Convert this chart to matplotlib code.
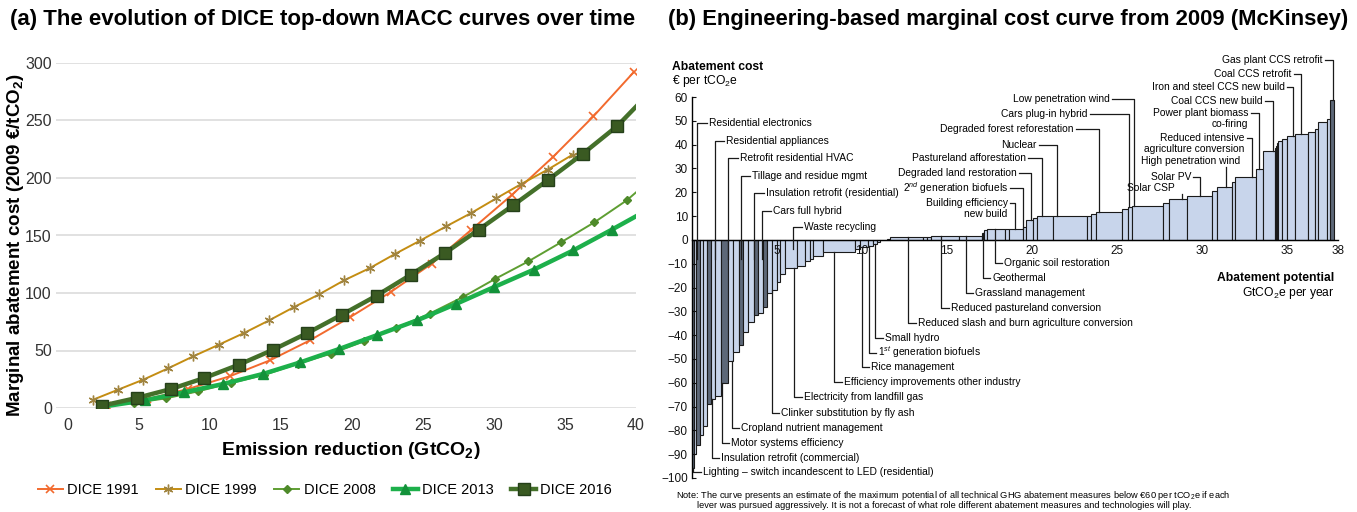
import matplotlib
matplotlib.use("Agg")
import matplotlib.pyplot as plt
import numpy as np

plt.rcParams['font.family'] = ['Liberation Sans', 'DejaVu Sans']
plt.rcParams['mathtext.fontset'] = 'custom'
plt.rcParams['mathtext.rm'] = 'Liberation Sans'
plt.rcParams['mathtext.it'] = 'Liberation Sans:italic'
plt.rcParams['mathtext.bf'] = 'Liberation Sans:bold'

# ---------------- data: panel (a) DICE MACC curves ----------------
dice1991_x = [2.73, 5.58, 8.43, 11.37, 14.21, 17.03, 19.88, 22.73, 25.61, 28.40, 31.25, 34.13, 37.00, 39.85]
dice1991_y = [2.0, 7.7, 16.5, 27.5, 41.4, 58.8, 79.1, 100.9, 125.5, 155.0, 185.2, 218.0, 253.6, 292.2]

dice1999_x = [1.76, 3.52, 5.29, 7.05, 8.81, 10.63, 12.39, 14.16, 15.92, 17.68, 19.44, 21.26, 23.02,
              24.79, 26.64, 28.40, 30.16, 31.92, 33.77, 35.54]
dice1999_y = [7.2, 15.9, 24.6, 34.5, 44.9, 55.1, 65.2, 76.2, 87.8, 98.8, 111.0, 121.7, 133.9,
              145.5, 158.0, 169.6, 182.3, 194.8, 207.2, 220.3]

dice2008_x = [2.47, 4.61, 6.90, 9.16, 11.45, 13.80, 16.21, 18.50, 20.85, 23.11, 25.46, 27.81, 30.07,
              32.42, 34.71, 37.06, 39.35, 40.0]
dice2008_y = [2.0, 4.3, 8.4, 14.5, 21.7, 28.7, 38.6, 47.2, 58.0, 69.6, 82.0, 96.5, 112.2,
              127.5, 144.0, 161.4, 180.6, 187.5]

dice2013_x = [2.56, 5.40, 8.13, 10.93, 13.72, 16.36, 19.09, 21.79, 24.58, 27.31, 30.01, 32.80, 35.59, 38.30, 40.0]
dice2013_y = [1.4, 6.7, 13.6, 20.9, 29.6, 39.7, 51.3, 63.5, 76.2, 90.4, 105.2, 120.3, 137.1, 155.1, 166.7]

dice2016_x = [2.41, 4.82, 7.25, 9.60, 12.04, 14.45, 16.86, 19.30, 21.73, 24.14, 26.55, 28.93, 31.34,
              33.77, 36.24, 38.68, 40.0]
dice2016_y = [2.0, 8.7, 16.5, 26.1, 37.7, 50.7, 65.2, 81.2, 97.7, 115.9, 134.8, 155.1, 176.2,
              198.0, 220.9, 245.2, 262.0]

left_yticks = [0, 50, 100, 150, 200, 250, 300]
left_xticks = [0, 5, 10, 15, 20, 25, 30, 35, 40]

# ---------------- data: panel (b) McKinsey MACC ----------------
lever_widths = [0.10, 0.15, 0.20, 0.22, 0.23, 0.20, 0.25, 0.34, 0.45, 0.29, 0.35, 0.24, 0.29, 0.34,
                0.25, 0.26, 0.27, 0.26, 0.29, 0.20, 0.29, 0.69, 0.49, 0.29, 0.20, 0.59, 1.86, 0.29,
                0.50, 0.25, 0.24, 0.19, 0.39, 0.20, 1.96, 0.20, 0.23, 1.69, 1.31, 0.14, 0.16, 1.07,
                0.26, 0.78, 0.20, 0.39, 0.27, 0.90, 2.01, 0.23, 0.31, 1.51, 0.40, 0.19, 1.83, 0.39,
                1.02, 1.47, 0.29, 0.88, 0.20, 1.24, 0.39, 0.72, 0.07, 0.07, 0.06, 0.20, 0.29, 0.49,
                0.78, 0.40, 0.19, 0.49, 0.20, 0.23]
lever_costs = [-96, -90, -86, -82, -78, -69, -67, -65.5, -60, -51, -47, -44, -38.5, -34.5,
               -31.5, -30.5, -28, -22.5, -21, -17.5, -14.5, -12, -11, -9, -8, -6.7, -5.3, -3.8,
               -3.0, -2.4, -1.6, -0.8, -0.2, 0.4, 1.1, 1.2, 1.4, 1.7, 1.8, 2.8, 4.2, 4.5,
               4.5, 4.5, 5.6, 8.4, 9.1, 10.2, 10.2, 10.2, 10.9, 11.6, 13.0, 13.7, 14.4, 15.4,
               17.2, 18.6, 20.7, 22.1, 24.5, 26.5, 29.7, 37.4, 38.5, 39.5, 40.5, 41.6, 42.3, 43.7,
               44.5, 45.1, 46.5, 49.3, 50.7, 58.8]

lever_names = [
    "Residential electronics", "Residential appliances", "Retrofit residential HVAC",
    "Tillage and residue mgmt", "Insulation retrofit (residential)", "Cars full hybrid",
    "Waste recycling",
    "Lighting \u2013 switch incandescent to LED (residential)", "Insulation retrofit (commercial)",
    "Motor systems efficiency", "Cropland nutrient management", "Clinker substitution by fly ash",
    "Electricity from landfill gas", "Efficiency improvements other industry", "Rice management",
    "1$^{st}$ generation biofuels", "Small hydro", "Reduced slash and burn agriculture conversion",
    "Reduced pastureland conversion", "Grassland management", "Geothermal",
    "Organic soil restoration",
    "Low penetration wind", "Cars plug-in hybrid", "Degraded forest reforestation", "Nuclear",
    "Pastureland afforestation", "Degraded land restoration", "2$^{nd}$ generation biofuels",
    "Building efficiency\nnew build",
    "Gas plant CCS retrofit", "Coal CCS retrofit", "Iron and steel CCS new build",
    "Coal CCS new build", "Power plant biomass\nco-firing", "Reduced intensive\nagriculture conversion",
    "Solar PV", "High penetration wind", "Solar CSP",
]
# lever position on the abatement axis (GtCO2e) each label points to
lever_label_pos = [0.31, 1.35, 2.14, 2.88, 3.66, 4.10, 5.92,
                   0.05, 1.16, 1.75, 2.33, 4.69, 6.00, 8.37, 9.98, 10.40, 10.76, 12.70,
                   14.65, 16.10, 17.10, 17.80,
                   26.00, 25.70, 23.96, 21.45, 20.57, 19.92, 19.45, 19.00,
                   37.73, 35.80, 35.33, 34.15, 33.33, 32.92, 29.88, 31.39, 28.80]

# ---------------- layout for labels (kind, label y, hook / text x) ----------------
label_layout = [
    ("tl", 49.0, 0.55), ("tl", 41.7, 0.55), ("tl", 34.3, 0.55), ("tl", 26.9, 0.55),
    ("tl", 19.6, 0.55), ("tl", 12.3, 0.55), ("tlw", 5.2, 0.55),
    ("bl", -97.3, 0.45), ("bl", -91.7, 0.45), ("bl", -85.2, 0.45), ("bl", -78.9, 0.45),
    ("bl", -72.5, 0.45), ("bl", -65.8, 0.45), ("bl", -59.5, 0.45), ("bl", -53.5, 0.45),
    ("bl", -47.3, 0.45), ("bl", -41.0, 0.45), ("bl", -34.7, 0.45), ("bl", -28.4, 0.45),
    ("bl", -22.1, 0.45), ("bl", -16.1, 0.45), ("bl", -9.8, 0.45),
    ("tr", 59.1, 1.3), ("tr", 52.9, 2.3), ("tr", 46.5, 1.4), ("tr", 39.9, 1.05),
    ("tr", 34.3, 0.8), ("tr", 28.0, 0.7), ("tr", 21.7, 0.75), ("tr", 15.4, 0.3),
    ("tr", 75.6, 0.5), ("tr", 69.7, 0.4), ("tr", 64.4, 0.35), ("tr", 58.5, 0.45),
    ("tr", 53.2, 0.47), ("tr", 42.7, 0.3), ("tr", 26.6, 0.4),
    ("up", 33.2, 32.23), ("up", 21.7, 28.41),
]

# ---------------- figure ----------------
W, H = 1357, 512
fig = plt.figure(figsize=(W / 100, H / 100), dpi=100)
fig.patch.set_facecolor("white")

# ---- panel (a)
ax1 = fig.add_axes([56 / W, 1 - 408 / H, 580 / W, 345 / H])
c91, c99, c08, c13, c16 = "#F26A2E", "#C48D12", "#5E9E32", "#1DB04B", "#44702A"
ax1.plot(dice1991_x, dice1991_y, color=c91, lw=1.4, marker="x", ms=6, mew=1.2, label="DICE 1991")
ax1.plot(dice1999_x, dice1999_y, color=c99, lw=1.4, marker=(6, 2, 0), ms=7, mew=1.0,
         mec="#A08440", label="DICE 1999")
ax1.plot(dice2008_x, dice2008_y, color=c08, lw=1.4, marker="D", ms=4, mfc="#4E8A2A", mec="#4E8A2A",
         markevery=list(range(len(dice2008_x) - 1)), label="DICE 2008")
ax1.plot(dice2013_x, dice2013_y, color=c13, lw=3.2, marker="^", ms=7, mfc="#13923A", mec="#13923A",
         markevery=list(range(len(dice2013_x) - 1)), label="DICE 2013")
ax1.plot(dice2016_x, dice2016_y, color=c16, lw=3.2, marker="s", ms=8.5, mfc="#3A5A22", mec="#25401A",
         markevery=list(range(len(dice2016_x) - 1)), label="DICE 2016")
ax1.set_xlim(-0.85, 40)
ax1.set_ylim(0, 300)
ax1.set_xticks(left_xticks)
ax1.set_yticks(left_yticks)
ax1.grid(axis="y", color="#D9D9D9", lw=1.1)
ax1.set_axisbelow(True)
for s in ax1.spines.values():
    s.set_visible(False)
ax1.tick_params(length=0, labelsize=11.5, colors="#333333", pad=7)
ax1.tick_params(axis="y", pad=3)
ax1.set_xlabel("Emission reduction (GtCO$_\\mathbf{2}$)", fontsize=14, fontweight="bold")
ax1.xaxis.set_label_coords(0.509, -0.092)
ax1.set_ylabel("Marginal abatement cost (2009 \u20ac/tCO$_\\mathbf{2}$)", fontsize=13.5, fontweight="bold")
ax1.yaxis.set_label_coords(-0.052, 0.472)
h, l = ax1.get_legend_handles_labels()
fig.legend(h, l, loc="center", bbox_to_anchor=(325 / W, 1 - 490 / H), ncol=5, frameon=False,
           fontsize=10.5, handlelength=1.7, columnspacing=1.2, handletextpad=0.3)
fig.text(10 / W, 1 - 19 / H, "(a) The evolution of DICE top-down MACC curves over time",
         fontsize=16, fontweight="bold", va="center", ha="left")

# ---- panel (b)
ax2 = fig.add_axes([692 / W, 1 - 478 / H, 38.5 * 17 / W, 381 / H])
lefts = np.concatenate([[0], np.cumsum(lever_widths)[:-1]])
ncost = len(lever_costs)
light, dark, black = "#C8D5EB", "#5D6878", "#2E333B"
dark_idx = {0, 2, 5, 8, 11, 14, 16, ncost - 1}
colors = []
for i in range(ncost):
    if 64 <= i <= 66:
        colors.append(black)
    elif i in dark_idx:
        colors.append(dark)
    else:
        colors.append(light)
ax2.bar(lefts, lever_costs, width=lever_widths, align="edge", color=colors,
        edgecolor="#1A1A1A", linewidth=0.8, zorder=1)
ax2.set_xlim(0, 38.5)
ax2.set_ylim(-100, 60)
for s in ["top", "right"]:
    ax2.spines[s].set_visible(False)
ax2.spines["left"].set_bounds(-100, 60)
ax2.spines["left"].set_linewidth(1.0)
ax2.spines["bottom"].set_position(("data", 0))
ax2.spines["bottom"].set_bounds(0, 38)
ax2.spines["bottom"].set_linewidth(1.0)
ax2.spines["bottom"].set_zorder(3)
ax2.set_yticks(range(-100, 61, 10))
ax2.set_xticks([5, 10, 15, 20, 25, 30, 35, 38])
ax2.tick_params(axis="y", direction="in", length=3, labelsize=8.5, pad=3, colors="#111111")
ax2.tick_params(axis="x", length=0, labelsize=8.5, pad=4, colors="#111111")

edges = np.cumsum(lever_widths)
lc = "#1A1A1A"
gap = 0.12
lsp = 4.5
fs = 7.4
for name, lx, (kind, ty, p) in zip(lever_names, lever_label_pos, label_layout):
    idx = min(int(np.searchsorted(edges, lx, side="right")), ncost - 1)
    bar_y = lever_costs[idx]
    lines = name.split("\n")
    if kind in ("tl", "tlw"):
        end_y = -8 if kind == "tl" else -4
        ax2.plot([lx, lx, lx + p], [end_y, ty, ty], color=lc, lw=0.9, clip_on=False, zorder=4)
        ax2.text(lx + p + gap, ty, name, fontsize=fs, ha="left", va="center", zorder=5)
    elif kind == "bl":
        ax2.plot([lx, lx, lx + p], [bar_y, ty, ty], color=lc, lw=0.9, clip_on=False, zorder=4)
        ax2.text(lx + p + gap, ty, name, fontsize=fs, ha="left", va="center", zorder=5)
    elif kind == "tr":
        ax2.plot([lx, lx, lx - p], [bar_y, ty, ty], color=lc, lw=0.9, clip_on=False, zorder=4)
        for k, ln in enumerate(lines):
            ax2.text(lx - p - gap, ty - k * lsp, ln, fontsize=fs, ha="right", va="center",
                     zorder=5, clip_on=False)
    elif kind == "up":
        ax2.plot([lx, lx], [ty - 2.5, bar_y], color=lc, lw=0.9, clip_on=False, zorder=4)
        ax2.text(p, ty, name, fontsize=fs, ha="right", va="center", zorder=5, clip_on=False)

ax2.text(-1.18, 72.7, "Abatement cost", fontsize=8.7, fontweight="bold", ha="left", va="center")
ax2.text(-1.18, 66.6, "\u20ac per tCO$_2$e", fontsize=8.7, ha="left", va="center")
ax2.text(37.8, -16.0, "Abatement potential", fontsize=8.7, fontweight="bold", ha="right", va="center")
ax2.text(37.8, -22.2, "GtCO$_2$e per year", fontsize=8.7, ha="right", va="center")

fig.text(676 / W, 1 - 496 / H,
         "Note: The curve presents an estimate of the maximum potential of all technical GHG abatement "
         "measures below \u20ac60 per tCO$_2$e if each", fontsize=6.7, ha="left", va="center")
fig.text(697 / W, 1 - 506 / H,
         "lever was pursued aggressively. It is not a forecast of what role different abatement "
         "measures and technologies will play.", fontsize=6.7, ha="left", va="center")
fig.text(668 / W, 1 - 19 / H, "(b) Engineering-based marginal cost curve from 2009 (McKinsey)",
         fontsize=15.8, fontweight="bold", va="center", ha="left")

fig.savefig("out.png", dpi=100)
